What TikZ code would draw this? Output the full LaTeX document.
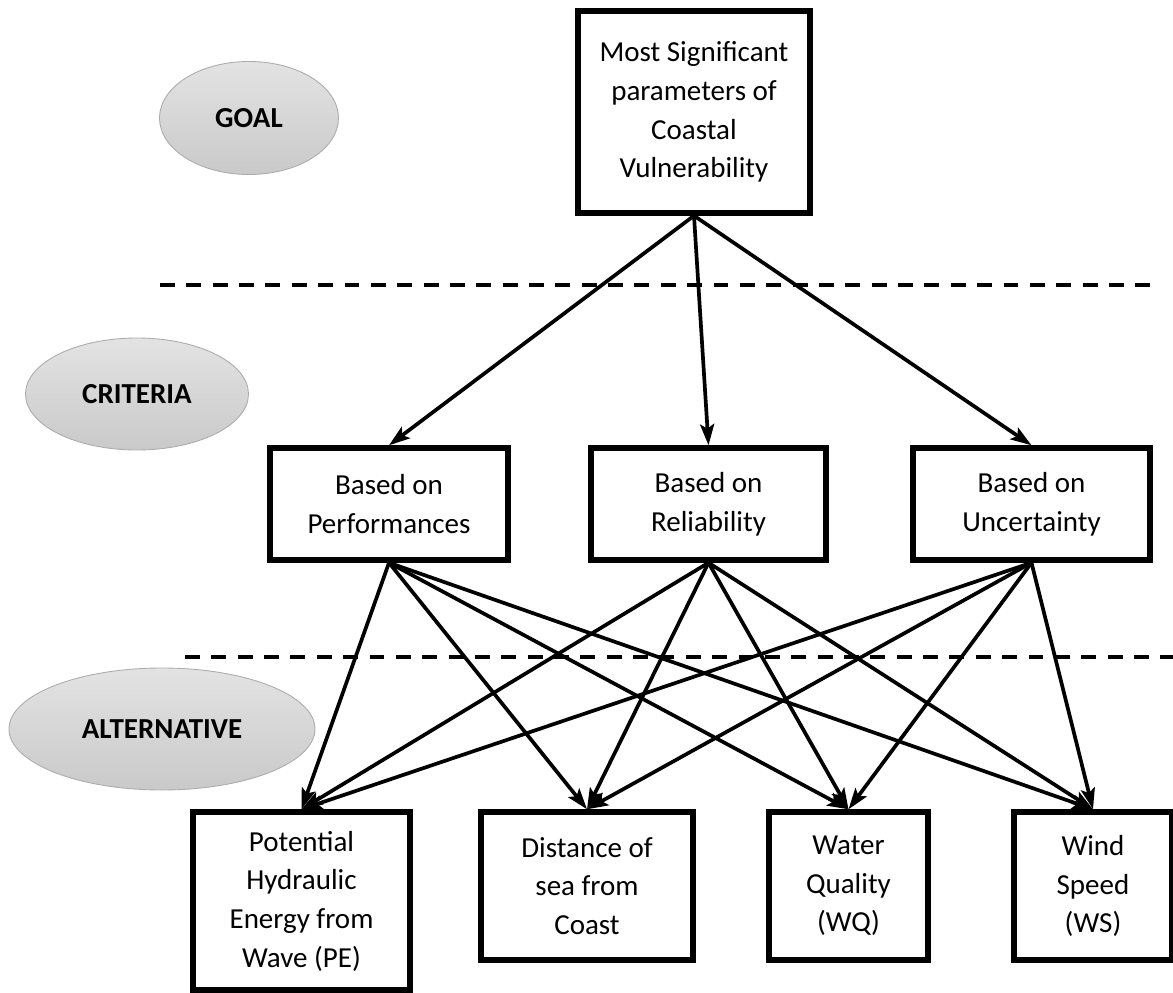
\documentclass[tikz,border=0pt]{standalone}
\usepackage{fontspec}
\setmainfont{Carlito}
\usetikzlibrary{arrows.meta,shapes.geometric}

\begin{document}
\begin{tikzpicture}[
    box/.style={rectangle, draw, line width=3.1pt, align=center, inner sep=0pt,
                font=\fontsize{16.5}{22}\selectfont},
    level/.style={ellipse, draw=gray!65, line width=0.5pt, top color=gray!22, bottom color=gray!42,
                  inner sep=0pt, font=\fontsize{16.5}{19}\selectfont\bfseries},
    link/.style={line width=2.1pt, ->, >={Stealth[length=12pt,width=8pt,inset=2.5pt]}},
    sep/.style={line width=2.3pt, dash pattern=on 8.5pt off 6.5pt}
  ]

  \useasboundingbox (0,0) rectangle (23.46,-19.86);

  % Levels
  \draw (4.98,-2.36)  node(GOAL) [level, minimum width=3.58cm, minimum height=2.26cm] {GOAL};
  \draw (2.74,-7.88)  node(CRIT) [level, minimum width=4.46cm, minimum height=2.24cm] {CRITERIA};
  \draw (3.24,-14.58) node(ALT)  [level, minimum width=6.12cm, minimum height=2.44cm] {ALTERNATIVE};

  % Separators
  \coordinate (S1a) at (3.2,-5.70);
  \coordinate (S1b) at (23.0,-5.70);
  \coordinate (S2a) at (3.7,-13.14);
  \coordinate (S2b) at (23.46,-13.14);
  \draw[sep] (S1a) -- (S1b);
  \draw[sep] (S2a) -- (S2b);

  % Nodes
  \draw (13.88,-2.24)  node(MS) [box, minimum width=4.64cm, minimum height=4.04cm] {Most Significant\\parameters of\\Coastal\\Vulnerability};

  \draw (7.78,-10.08)  node(BP) [box, minimum width=4.76cm, minimum height=2.24cm] {Based on\\Performances};
  \draw (14.17,-10.08) node(BR) [box, minimum width=4.70cm, minimum height=2.24cm] {Based on\\Reliability};
  \draw (20.63,-10.08) node(BU) [box, minimum width=4.74cm, minimum height=2.24cm] {Based on\\Uncertainty};

  \draw (6.03,-18.02)  node(PE) [box, minimum width=4.34cm, minimum height=3.56cm] {Potential\\Hydraulic\\Energy from\\Wave (PE)};
  \draw (11.74,-17.72) node(DS) [box, minimum width=4.24cm, minimum height=2.96cm] {Distance of\\sea from\\Coast};
  \draw (16.97,-17.72) node(WQ) [box, minimum width=3.18cm, minimum height=2.96cm] {Water\\Quality\\(WQ)};
  \draw (21.86,-17.72) node(WS) [box, minimum width=3.16cm, minimum height=2.96cm] {Wind\\Speed\\(WS)};

  % Edges
  \path[link] (MS.south) edge (BP.north);
  \path[link] (MS.south) edge (BR.north);
  \path[link] (MS.south) edge (BU.north);

  \path[link] (BP.south) edge (PE.north);
  \path[link] (BP.south) edge (DS.north);
  \path[link] (BP.south) edge (WQ.north);
  \path[link] (BP.south) edge (WS.north);

  \path[link] (BR.south) edge (PE.north);
  \path[link] (BR.south) edge (DS.north);
  \path[link] (BR.south) edge (WQ.north);
  \path[link] (BR.south) edge (WS.north);

  \path[link] (BU.south) edge (PE.north);
  \path[link] (BU.south) edge (DS.north);
  \path[link] (BU.south) edge (WQ.north);
  \path[link] (BU.south) edge (WS.north);
\end{tikzpicture}
\end{document}
